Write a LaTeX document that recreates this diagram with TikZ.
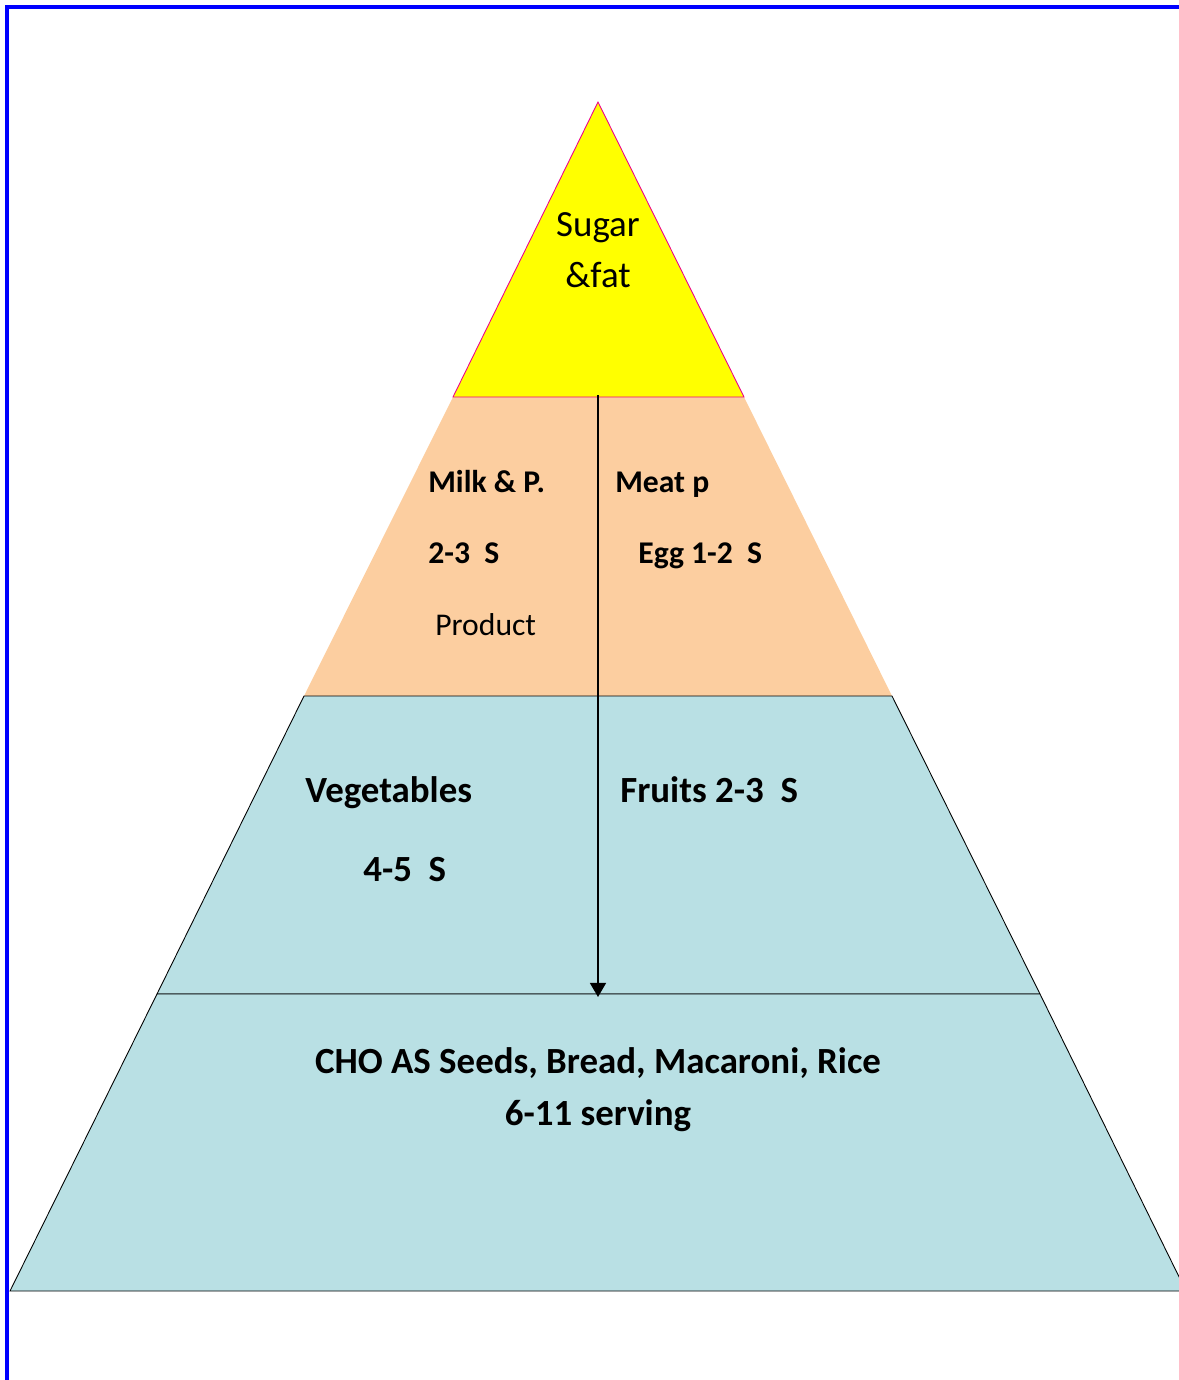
\documentclass[tikz,border=0pt]{standalone}
\usepackage{fontspec}
\setmainfont{Carlito}
\usetikzlibrary{positioning, arrows.meta}
\definecolor{sugarfill}{RGB}{255,255,0}
\definecolor{milkfill}{RGB}{252,206,160}
\definecolor{vegfill}{RGB}{185,224,228}
\tikzset{
x=0.02cm, y=-0.02cm, % one unit is one pixel of the page
tier/.style={draw=black, line width=0.5pt}, % outline of a layer
plain/.style={font=\fontsize{21}{25}\selectfont, inner sep=0pt, anchor=base}, % top labels
big/.style={font=\fontsize{21}{25}\selectfont\bfseries, inner sep=0pt}, % bold labels
small/.style={font=\fontsize{18}{22}\selectfont\bfseries, inner sep=0pt, anchor=base west}, % labels in the milk layer
}
\begin{document}
\begin{tikzpicture}
    \useasboundingbox (0,0) rectangle (1179,1380);
    \clip (0,0) rectangle (1179,1380);
    % page frame
    \draw[blue, line width=2.3pt] (7,1380) -- (7,7) -- (1179,7);
    % layers, from the top
    \coordinate (apex) at (598,102);
    \coordinate (l1) at (453,397);  \coordinate (r1) at (744,397);
    \coordinate (l2) at (304,696);  \coordinate (r2) at (892,696);
    \coordinate (l3) at (157,994);  \coordinate (r3) at (1040,994);
    \coordinate (l4) at (10,1291);  \coordinate (r4) at (1186,1291);
    \fill[milkfill] (l1) -- (r1) -- (r2) -- (l2) -- cycle;
    \filldraw[fill=vegfill, tier] (l2) -- (r2) -- (r3) -- (l3) -- cycle;
    \filldraw[fill=vegfill, tier] (l3) -- (r3) -- (r4) -- (l4) -- cycle;
    \filldraw[fill=sugarfill, draw=magenta, line width=0.5pt] (apex) -- (r1) -- (l1) -- cycle;
    % labels
    \node[plain] (sugar) at (598,236) {Sugar};
    \node[plain] (fat) at (598,287) {\&fat};
    \node[small] (milk) at (428,492) {Milk \& P.};
    \node[small] (milks) at (428,563) {2-3\ \ S};
    \node[small, font=\fontsize{18}{22}\selectfont] (product) at (435,635) {Product};
    \node[small] (meat) at (615,492) {Meat p};
    \node[small] (egg) at (638,563) {Egg 1-2\ \ S};
    \node[big, anchor=base west] (veg) at (305,802) {Vegetables};
    \node[big, anchor=base west] (vegs) at (363,881) {4-5\ \ S};
    \node[big, anchor=base west] (fruit) at (620,802) {Fruits 2-3\ \ S};
    \node[big, anchor=base] (cho) at (598,1073) {CHO AS Seeds, Bread, Macaroni, Rice};
    \node[big, anchor=base] (serving) at (598,1125) {6-11 serving};
    % divider arrow
    \coordinate (top) at (598,395);
    \coordinate (bottom) at (598,997);
    \draw[-{Triangle[length=8pt, width=9pt]}, line width=1.2pt] (top) -- (bottom);
\end{tikzpicture}
\end{document}
